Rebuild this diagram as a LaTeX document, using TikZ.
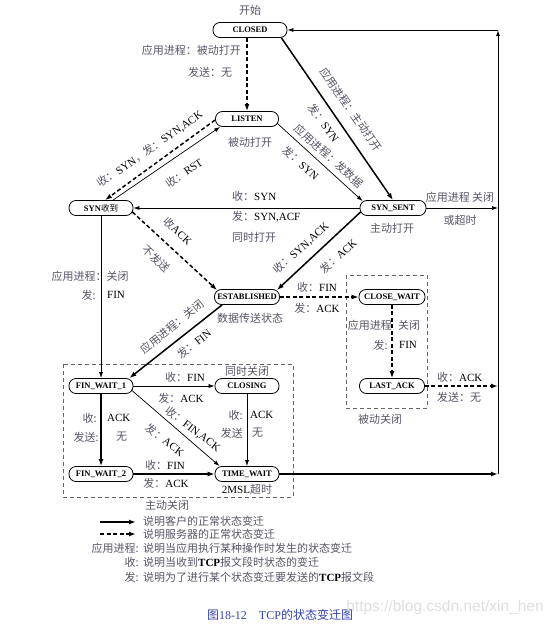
\documentclass[tikz,border=0pt]{standalone}
\usepackage{fontspec}
\setmainfont{Liberation Serif}
\newfontfamily\cjk{Noto Sans CJK SC}
\newfontfamily\wmfont{Liberation Sans}
\usetikzlibrary{arrows.meta,calc}
\definecolor{zhc}{HTML}{555566}
\definecolor{capc}{HTML}{3344AA}
\newcommand\zh[1]{{\cjk\color{zhc}#1}}
\tikzset{
 st/.style={draw, rounded corners=7pt, minimum height=15pt, minimum width=64pt, inner sep=0pt, font=\fontsize{8.5}{10}\selectfont\bfseries, line width=0.8pt},
 lab/.style={font=\fontsize{11}{12}\selectfont, inner sep=0pt},
 tk/.style={line width=1.5pt, -{Latex[length=7pt,width=5pt]}},
 tn/.style={line width=0.7pt, -{Latex[length=6pt,width=4pt]}},
 dsh/.style={line width=1.5pt, dash pattern=on 4pt off 2.5pt, -{Latex[length=7pt,width=5pt]}},
 box/.style={draw=gray!80!black, line width=0.7pt, dash pattern=on 4pt off 3pt},
}
\begin{document}
\begin{tikzpicture}[x=1pt,y=-1pt]
\useasboundingbox (0,0) rectangle (554,626);
% states
\node[st, minimum width=74pt] (closed) at (250,30) {CLOSED};
\node[st, minimum width=63pt] (listen) at (247,119) {LISTEN};
\node[st] (synrcvd) at (101,208) {SYN{\cjk\mdseries 收到}};
\node[st, minimum width=66pt] (synsent) at (393,208) {SYN\_SENT};
\node[st, minimum width=65pt] (estab) at (247,297) {ESTABLISHED};
\node[st, minimum width=66pt] (closewait) at (392,297) {CLOSE\_WAIT};
\node[st, minimum width=65pt] (lastack) at (392,386) {LAST\_ACK};
\node[st] (fw1) at (101,386) {FIN\_WAIT\_1};
\node[st] (closing) at (247,386) {CLOSING};
\node[st] (fw2) at (101,474) {FIN\_WAIT\_2};
\node[st] (tw) at (247,474) {TIME\_WAIT};
\coordinate (rtop) at (498,30);
\coordinate (rbot) at (498,474);
% boxes
\draw[box] (63,364) rectangle (293,497);
\draw[box] (346,275) rectangle (427,408);
% transitions
\draw[dsh] (listen.north |- closed.south) -- (listen.north);
\draw[tk] ($(closed.south east)+(-6,0)$) -- (synsent.north);
\draw[tn] ($(listen.east)+(-2,4)$) -- ($(synsent.north west)+(3,1)$);
\draw[dsh] ($(listen.west)+(0,1)$) -- ($(synrcvd.north)+(4,0)$);
\draw[tn] ($(synrcvd.north)+(12,0)$) -- ($(listen.south west)+(5,0)$);
\draw[tn] (synsent.west) -- (synrcvd.east);
\draw[dsh] ($(synrcvd.east)+(-1,4)$) -- ($(estab.north west)+(3,1)$);
\draw[tk] ($(synsent.west)+(1,4)$) -- ($(estab.north east)+(-3,1)$);
\draw[dsh] (estab.east) -- (closewait.west);
\draw[dsh] (closewait.south) -- (lastack.north);
\draw[dsh] (lastack.east) -- (lastack.east -| rbot);
\draw[tn] (synsent.east) -- (synsent.east -| rbot);
\draw[tn] (synrcvd.south) -- (fw1.north);
\draw[tk] ($(estab.south west)+(8,0)$) -- ($(fw1.north east)+(-4,0)$);
\draw[tn] (fw1.east) -- (closing.west);
\draw[tn] ($(fw1.east)+(-2,4)$) -- ($(tw.north west)+(5,0)$);
\draw[tk] (fw1.south) -- (fw2.north);
\draw[tn] (closing.south) -- (tw.north);
\draw[tk] (fw2.east) -- (tw.west);
\draw[tk] (tw.east) -- (tw.east -| rbot);
\draw[line width=1pt, -{Latex[length=6pt,width=4pt]}] (rbot) -- (rtop);
\draw[line width=0.8pt, -{Latex[length=6pt,width=4pt]}] (rtop) -- (closed.east);
% labels
\node[lab] (t0) at (250,10) {\zh{开始}};
\node[lab, anchor=east] (t1) at (241,50) {\zh{应用进程：被动打开}};
\node[lab] (t2) at (210,72) {\zh{发送：无}};
\node[lab] (t3) at (250,142) {\zh{被动打开}};
\node[lab, rotate=-55] (t4) at (351,110) {\zh{应用进程：主动打开}};
\node[lab, rotate=-55] (t5) at (324,123) {\zh{发：}SYN};
\node[lab, rotate=-42] (t6) at (329,156) {\zh{应用进程：发数据}};
\node[lab, rotate=-42] (t7) at (301,163) {\zh{发：}SYN};
\node[lab, rotate=35] (t8) at (150,149) {\zh{收：}SYN\zh{，发：}SYN,ACK};
\node[lab, rotate=35] (t9) at (184,173) {\zh{收：}RST};
\node[lab, anchor=west] (t10) at (232,196) {\zh{收：}SYN};
\node[lab, anchor=west] (t11) at (232,217) {\zh{发：}SYN,ACF};
\node[lab, anchor=west] (t12) at (232,237) {\zh{同时打开}};
\node[lab] (t13) at (392,228) {\zh{主动打开}};
\node[lab] (t14) at (460,197) {\zh{应用进程 关闭}};
\node[lab] (t15) at (460,220) {\zh{或超时}};
\node[lab, rotate=-43] (t16) at (178,231) {\zh{收}ACK};
\node[lab, rotate=-43] (t17) at (156,259) {\zh{不发送}};
\node[lab, rotate=42] (t18) at (301,248) {\zh{收：}SYN,ACK};
\node[lab, rotate=42] (t19) at (338,256) {\zh{发：}ACK};
\node[lab] (t20) at (317,287) {\zh{收：}FIN};
\node[lab] (t21) at (317,308) {\zh{发：}ACK};
\node[lab] (t22) at (250,318) {\zh{数据传送状态}};
\node[lab, anchor=east] (t23) at (392,325) {\zh{应用进程}};
\node[lab, anchor=west] (t24) at (398,325) {\zh{关闭}};
\node[lab, anchor=east] (t25) at (388,345) {\zh{发:}};
\node[lab, anchor=west] (t26) at (399,345) {FIN};
\node[lab, anchor=west] (t27) at (437,377) {\zh{收：}ACK};
\node[lab, anchor=west] (t28) at (437,397) {\zh{发送：无}};
\node[lab] (t29) at (380,419) {\zh{被动关闭}};
\node[lab] (t30) at (90,276) {\zh{应用进程：关闭}};
\node[lab, anchor=east] (t31) at (96,295) {\zh{发:}};
\node[lab, anchor=west] (t32) at (107,295) {FIN};
\node[lab, rotate=39] (t33) at (172,327) {\zh{应用进程：关闭}};
\node[lab, rotate=39] (t34) at (194,344) {\zh{发：}FIN};
\node[lab] (t35) at (247,371) {\zh{同时关闭}};
\node[lab] (t36) at (185,377) {\zh{收：}FIN};
\node[lab] (t37) at (181,398) {\zh{发：}ACK};
\node[lab, rotate=-37] (t38) at (193,429) {\zh{收：}FIN,ACK};
\node[lab, rotate=-37] (t39) at (165,440) {\zh{发：}ACK};
\node[lab, anchor=east] (t40) at (97,418) {\zh{收:}};
\node[lab, anchor=west] (t41) at (107,418) {ACK};
\node[lab, anchor=east] (t42) at (99,437) {\zh{发送:}};
\node[lab, anchor=west] (t43) at (116,437) {\zh{无}};
\node[lab, anchor=east] (t44) at (243,415) {\zh{收:}};
\node[lab, anchor=west] (t45) at (250,415) {ACK};
\node[lab, anchor=east] (t46) at (243,433) {\zh{发送}};
\node[lab, anchor=west] (t47) at (252,433) {\zh{无}};
\node[lab] (t48) at (165,465) {\zh{收：}FIN};
\node[lab] (t49) at (166,483) {\zh{发：}ACK};
\node[lab] (t50) at (247,489) {2MSL\zh{超时}};
\node[lab] (t51) at (167,505) {\zh{主动关闭}};
% legend
\coordinate (la1) at (100,522);
\coordinate (lb1) at (136,522);
\coordinate (la2) at (100,534);
\coordinate (lb2) at (136,534);
\draw[tk] (la1) -- (lb1);
\draw[dsh] (la2) -- (lb2);
\node[lab, anchor=west] (g1) at (143,521) {\zh{说明客户的正常状态变迁}};
\node[lab, anchor=west] (g2) at (143,534) {\zh{说明服务器的正常状态变迁}};
\node[lab, anchor=east] (g3) at (139,548) {\zh{应用进程:}};
\node[lab, anchor=west] (g4) at (143,548) {\zh{说明当应用执行某种操作时发生的状态变迁}};
\node[lab, anchor=east] (g5) at (139,562) {\zh{收:}};
\node[lab, anchor=west] (g6) at (143,562) {\zh{说明当收到}\textbf{TCP}\zh{报文段时状态的变迁}};
\node[lab, anchor=east] (g7) at (139,577) {\zh{发:}};
\node[lab, anchor=west] (g8) at (143,577) {\zh{说明为了进行某个状态变迁要发送的}\textbf{TCP}\zh{报文段}};
% caption and watermark
\node[font=\fontsize{12}{14}\selectfont, text=capc, inner sep=0pt] (cap) at (280,615) {{\cjk 图}18-12\quad TCP{\cjk 的状态变迁图}};
\node[font=\wmfont\fontsize{15.5}{17}\selectfont, text=black!13, inner sep=0pt] (wm) at (445,607) {https://blog.csdn.net/xin\_hen};
\end{tikzpicture}
\end{document}
